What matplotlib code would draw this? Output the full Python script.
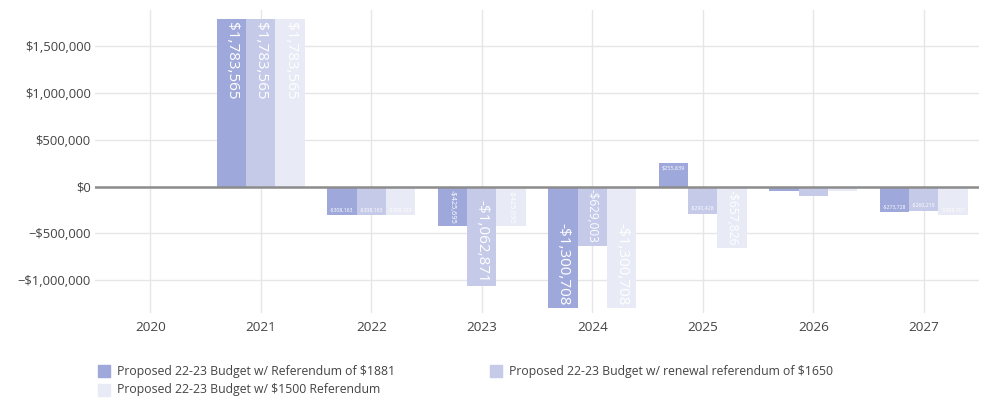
import matplotlib
matplotlib.use("Agg")
import matplotlib.pyplot as plt
from matplotlib.patches import Rectangle
import numpy as np

# ---------------- data ----------------
years = ["2020", "2021", "2022", "2023", "2024", "2025", "2026", "2027"]
series_names = [
    "Proposed 22-23 Budget w/ Referendum of $1881",
    "Proposed 22-23 Budget w/ renewal referendum of $1650",
    "Proposed 22-23 Budget w/ $1500 Referendum",
]
ref_1881 = [-15000, 1783565, -308163, -425695, -1300708, 255839, -50000, -273728]
ref_1650 = [-15000, 1783565, -308163, -1062871, -629003, -290428, -100000, -260219]
ref_1500 = [-10000, 1783565, -308163, -425695, -1300708, -657826, -45000, -308707]
series_values = [ref_1881, ref_1650, ref_1500]
colors = ["#9FA8DA", "#C5CAE9", "#E8EAF6"]
ytick_vals = [-1000000, -500000, 0, 500000, 1000000, 1500000]

# ---------------- figure ----------------
plt.rcParams["font.family"] = ["Open Sans", "DejaVu Sans"]
W, H, DPI = 988, 404, 100
fig = plt.figure(figsize=(W / DPI, H / DPI), dpi=DPI)
ax_l, ax_r, ax_t, ax_b = 95, 979, 10, 313
ax = fig.add_axes([ax_l / W, 1 - ax_b / H, (ax_r - ax_l) / W, (ax_b - ax_t) / H])

ymin, ymax = -1349000, 1883000
ax.set_ylim(ymin, ymax)
ax.set_xlim(-0.5, len(years) - 0.5)

def money(v, minus="-"):
    return (minus + "$" if v < 0 else "$") + f"{abs(v):,.0f}"

ax.set_yticks(ytick_vals)
ax.set_yticklabels([money(v, "\u2212") for v in ytick_vals])
x = np.arange(len(years))
ax.set_xticks(x)
ax.set_xticklabels(years)
ax.tick_params(axis="both", length=0, labelsize=9.4, colors="#444444")
ax.tick_params(axis="x", labelsize=9.7)
ax.tick_params(axis="y", pad=3)
ax.tick_params(axis="x", pad=6)
for s in ax.spines.values():
    s.set_visible(False)
ax.grid(True, color="#e6e6e6", linewidth=1)
ax.set_axisbelow(True)
ax.axhline(0, color="#8c8c8c", linewidth=1.8, zorder=3)

group = 0.8
bw = group / 3
px_per_x = (ax_r - ax_l) / len(years)
px_per_y = (ax_b - ax_t) / (ymax - ymin)
bar_px_w = bw * px_per_x

renderer = fig.canvas.get_renderer()
base_fs = 11.0  # points
pad = 3  # px

for i, (vals, c) in enumerate(zip(series_values, colors)):
    xs = x - group / 2 + bw * (i + 0.5)
    ax.bar(xs, vals, width=bw, color=c, zorder=2, linewidth=0)
    for xi, v in zip(xs, vals):
        lab = money(v)
        t = ax.text(0, 0, lab, fontsize=base_fs)
        bb = t.get_window_extent(renderer)
        t.remove()
        tw, th = bb.width, bb.height * 0.85
        L = abs(v) * px_per_y
        s_rot = min(1, (L - 2 * pad) / tw, (bar_px_w - 2 * pad) / th)
        s_hor = min(1, (bar_px_w - 2 * pad) / tw, (L - 2 * pad) / th)
        rot = s_rot > s_hor
        s = max(s_rot, s_hor)
        fs = base_fs * s
        if fs < 3.2:
            continue
        off = pad / px_per_y
        if v >= 0:
            yy, va = v - off, "top"
        else:
            yy, va = v + off, "bottom"
        ax.text(xi, yy, lab, fontsize=fs, color="white",
                rotation=270 if rot else 0, ha="center", va=va, zorder=4)

# ---------------- legend ----------------
leg_pos = [(98, 371), (490, 371), (98, 390)]
for (lx, ly), name, c in zip(leg_pos, series_names, colors):
    fig.patches.append(Rectangle((lx / W, 1 - (ly + 6) / H), 12 / W, 12 / H,
                                 transform=fig.transFigure, color=c, figure=fig))
    fig.text((lx + 19) / W, 1 - ly / H, name, fontsize=8.8, color="#444444",
             va="center", ha="left")

fig.savefig("out.png", dpi=DPI)
